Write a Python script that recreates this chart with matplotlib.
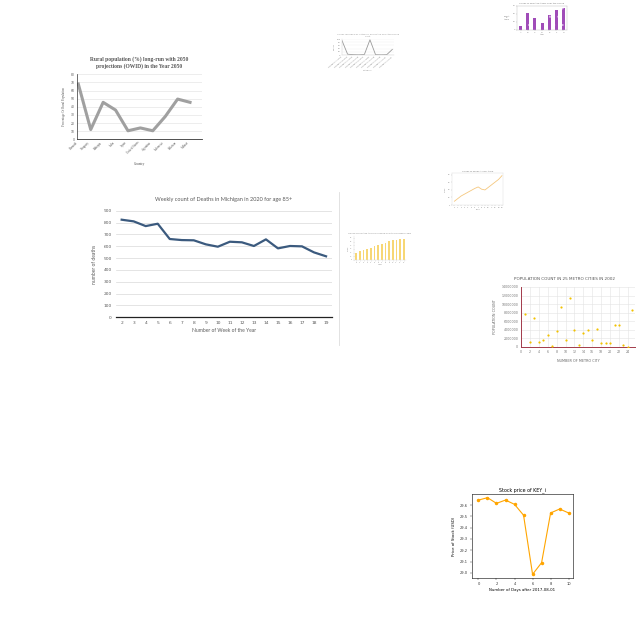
import numpy as np
import matplotlib
matplotlib.use("Agg")
import matplotlib.pyplot as plt

# ---- data ----
rural_countries = ["Burundi", "Uruguay", "Ethiopia", "India", "Japan",
                   "United States", "Argentina", "Indonesia", "Pakistan", "Malawi"]
rural_pct = [68, 12, 45.5, 36, 10.5, 14, 10.5, 28, 49.5, 45.5]

small_cats = ["Category A long", "Category B long", "Category C long", "Category D long",
              "Category E long", "Category F long", "Category G long", "Category H long",
              "Category I long", "Category J long"]
small_vals = [90, 5, 2, 1, 3, 95, 2, 1, 2, 35]

purple_cats = ["A", "B", "C", "D", "E", "F", "G"]
purple_vals = [10, 43, 30, 17, 38, 50, 55]

weeks = list(range(2, 20))
deaths = [824, 810, 770, 790, 661, 652, 650, 616, 596, 638, 633, 602, 658, 582, 602, 599, 548, 515]

yl_x = list(range(15))
yl_vals = [10, 17, 24, 29, 34, 39, 44, 48, 42, 40, 47, 54, 61, 68, 78]

ybar_x = list(range(14))
ybar_vals = [20, 25, 27, 29, 32, 38, 40, 43, 45, 52, 53, 54, 56, 58]

metro_city = list(range(1, 26))
metro_pop = [7.7e6, 1.2e6, 6.8e6, 1.2e6, 1.6e6, 2.9e6, 0.23e6, 3.8e6, 9.25e6, 1.55e6,
             11.4e6, 3.95e6, 0.45e6, 3.25e6, 3.95e6, 1.6e6, 4.2e6, 0.9e6, 0.85e6, 0.9e6,
             5.05e6, 5.2e6, 0.55e6, 0.1e6, 8.7e6]

stock_days = list(range(11))
stock_price = [29.644, 29.665, 29.615, 29.644, 29.606, 29.51, 28.987, 29.09, 29.53, 29.565, 29.53]

W = H = 640
fig = plt.figure(figsize=(6.4, 6.4), dpi=100)


def axes_px(x0, y0, x1, y1):
    return fig.add_axes([x0 / W, 1 - y1 / H, (x1 - x0) / W, (y1 - y0) / H])


# ---- rural population chart ----
ax = axes_px(76.7, 74.3, 201.7, 139.3)
ax.plot(range(len(rural_pct)), rural_pct, color="#a0a0a0", lw=2.2)
ax.set_ylim(0, 80)
ax.set_xlim(-0.13, 9.94)
ax.set_yticks(range(0, 81, 10))
ax.set_xticks(range(len(rural_countries)))
ax.set_xticklabels(rural_countries, rotation=45, ha="right", fontsize=2.2,
                   family="Liberation Serif", color="#555555")
ax.tick_params(axis="y", labelsize=2.2, colors="#555555", length=0, pad=1.5)
ax.tick_params(axis="x", length=0, pad=1)
ax.grid(axis="y", color="#e6e6e6", lw=0.5)
ax.set_axisbelow(True)
for s in ["top", "right"]:
    ax.spines[s].set_visible(False)
ax.spines["left"].set_color("#333333")
ax.spines["bottom"].set_color("#333333")
ax.spines["left"].set_linewidth(0.5)
ax.spines["bottom"].set_linewidth(0.6)
ax.set_title("Rural population (%) long-run with 2050\nprojections (OWID) in the Year 2050",
             fontsize=4, fontweight="bold", family="Liberation Serif", color="#555555",
             pad=5, linespacing=1.1)
ax.set_xlabel("Country", fontsize=2.5, family="Liberation Serif", color="#555555", labelpad=5)
ax.set_ylabel("Percentage Of Rural Population", fontsize=2.2, family="Liberation Serif",
              color="#555555", labelpad=3)

# ---- small gray line chart (top middle) ----
ax = axes_px(342, 39, 394, 55)
ax.plot(range(len(small_vals)), small_vals, color="#9a9a9a", lw=0.6)
ax.set_xlim(0, 9.3)
ax.set_ylim(0, 100)
ax.set_yticks(range(0, 101, 20))
ax.set_xticks(range(len(small_cats)))
ax.set_xticklabels(small_cats, rotation=40, ha="right", fontsize=1.5, color="#888888")
ax.tick_params(labelsize=1.5, colors="#888888", length=0, pad=1)
ax.grid(axis="y", color="#eeeeee", lw=0.3)
for s in ["top", "right"]:
    ax.spines[s].set_visible(False)
ax.spines["left"].set_color("#cccccc")
ax.spines["bottom"].set_color("#cccccc")
ax.spines["left"].set_linewidth(0.3)
ax.spines["bottom"].set_linewidth(0.3)
ax.set_title("Values recorded by category across the selected period\ncount",
             fontsize=1.6, color="#999999", pad=1.5)
ax.set_xlabel("Category", fontsize=1.5, color="#999999", labelpad=1)
ax.set_ylabel("Values", fontsize=1.5, color="#999999", labelpad=1)

# ---- purple bar chart (top right) ----
plt.rcParams["hatch.linewidth"] = 0.3
ax = axes_px(517, 6, 567, 30)
ax.bar(range(len(purple_vals)), purple_vals, width=0.42, color="#a04cb8",
       hatch="..", edgecolor="#dcb8e8", lw=0)
ax.set_xlim(-0.5, 6.5)
ax.set_ylim(0, 60)
ax.set_xticks(range(len(purple_cats)))
ax.set_xticklabels(purple_cats)
ax.tick_params(labelsize=1.5, colors="#888888", length=0.8, width=0.2, pad=0.5)
for s in ax.spines.values():
    s.set_color("#bbbbbb")
    s.set_linewidth(0.3)
ax.set_title("Values of selected items over the period", fontsize=1.6, color="#777777", pad=1.5)
ax.set_xlabel("Item", fontsize=1.5, color="#777777", labelpad=0.8)
ax.set_ylabel("Count\nof\nitems", fontsize=1.5, color="#777777", rotation=0, labelpad=4,
              va="center")

# ---- Michigan weekly deaths ----
ax = axes_px(116, 210.7, 331.7, 317.3)
ax.plot(range(len(deaths)), deaths, color="#3b5a7e", lw=1.6)
ax.set_xlim(-0.47, len(deaths) - 0.53)
ax.set_ylim(0, 900)
ax.set_yticks(range(0, 901, 100))
ax.set_xticks(range(len(weeks)))
ax.set_xticklabels([str(w) for w in weeks])
ax.tick_params(labelsize=3.2, colors="#595959", length=0, pad=3)
ax.grid(axis="y", color="#d9d9d9", lw=0.5)
ax.set_axisbelow(True)
for s in ["top", "right", "left"]:
    ax.spines[s].set_visible(False)
ax.spines["bottom"].set_color("#222222")
ax.spines["bottom"].set_linewidth(0.9)
ax.set_title("Weekly count of Deaths in Michigan in 2020 for age 85+", fontsize=4,
             family="Lato", color="#595959", pad=7)
ax.set_xlabel("Number of Week of the Year", fontsize=3.6, family="Lato", color="#595959",
              labelpad=2)
ax.set_ylabel("number of deaths", fontsize=3.6, family="Lato", color="#595959", labelpad=5)

# separator line next to the Michigan chart
fig.add_artist(plt.Line2D([338.5 / W, 338.5 / W], [1 - 192 / H, 1 - 345 / H],
                          color="#dddddd", lw=0.6))

# ---- small yellow line chart ----
ax = axes_px(452, 173, 503, 205)
ax.plot(yl_x, yl_vals, color="#f5c77e", lw=0.6)
ax.set_xlim(-0.7, 14.3)
ax.set_ylim(0, 85)
ax.set_xticks(yl_x)
ax.set_yticks(range(0, 81, 20))
ax.tick_params(labelsize=1.4, colors="#888888", length=0.8, width=0.2, pad=0.5)
for s in ax.spines.values():
    s.set_color("#dddddd")
    s.set_linewidth(0.3)
ax.set_title("Values of series A over time", fontsize=1.6, color="#777777", pad=1)
ax.set_xlabel("Time", fontsize=1.4, color="#888888", labelpad=0.8)
ax.set_ylabel("Value", fontsize=1.4, color="#888888", labelpad=1)

# ---- small yellow bar chart ----
ax = axes_px(354, 236, 406, 260)
ax.bar(ybar_x, ybar_vals, width=0.45, color="#f7d774", lw=0)
ax.set_xlim(-0.6, 13.6)
ax.set_ylim(0, 65)
ax.set_xticks(ybar_x)
ax.set_yticks(range(0, 61, 10))
ax.tick_params(labelsize=1.3, colors="#888888", length=0.6, width=0.2, pad=0.5)
for s in ["top", "right"]:
    ax.spines[s].set_visible(False)
ax.spines["left"].set_color("#dddddd")
ax.spines["bottom"].set_color("#dddddd")
ax.spines["left"].set_linewidth(0.3)
ax.spines["bottom"].set_linewidth(0.3)
ax.set_title("Values of selected items increasing over the recorded years",
             fontsize=1.5, color="#888888", pad=1.5)
ax.set_xlabel("Year", fontsize=1.4, color="#888888", labelpad=0.8)
ax.set_ylabel("Value", fontsize=1.4, color="#888888", labelpad=1)

# ---- population scatter ----
ax = axes_px(521, 287, 635, 347)
ax.scatter(metro_city, metro_pop, s=2.5, color="#f2c200", lw=0, zorder=3)
ax.set_xlim(0, 25.6)
ax.set_ylim(0, 14000000)
ax.set_xticks(range(0, 25, 2))
ax.set_yticks(range(0, 14000001, 2000000))
ax.set_yticklabels([str(v) for v in range(0, 14000001, 2000000)])
ax.tick_params(labelsize=2.3, colors="#777777", length=0, pad=2)
ax.grid(color="#e3e3e3", lw=0.4)
ax.set_axisbelow(True)
for s in ["top", "right"]:
    ax.spines[s].set_visible(False)
ax.spines["left"].set_color("#a23a4a")
ax.spines["bottom"].set_color("#a23a4a")
ax.spines["left"].set_linewidth(0.7)
ax.spines["bottom"].set_linewidth(0.7)
fig.text(565 / W, 1 - 279 / H, "POPULATION COUNT IN 25 METRO CITIES IN 2002",
         fontsize=3.0, color="#555555", ha="center", va="center")
ax.set_xlabel("NUMBER OF METRO CITY", fontsize=2.4, color="#666666", labelpad=4)
ax.set_ylabel("POPULATION COUNT", fontsize=2.4, color="#666666", labelpad=3)

# ---- stock price ----
ax = axes_px(471.7, 494.3, 572.7, 578.3)
ax.plot(stock_days, stock_price, color="orange", lw=0.8, marker="o", ms=1.5)
ax.set_xlim(-0.75, 10.45)
ax.set_ylim(28.952, 29.695)
ax.set_xticks(range(0, 11, 2))
ax.set_yticks([29.0, 29.1, 29.2, 29.3, 29.4, 29.5, 29.6])
ax.tick_params(labelsize=2.6, colors="#333333", length=1.2, width=0.3, pad=1.5)
for s in ax.spines.values():
    s.set_linewidth(0.4)
ax.set_title("Stock price of KEY_i", fontsize=3.4, pad=2.5)
ax.set_xlabel("Number of Days after 2017-08-01", fontsize=2.8, labelpad=1.5)
ax.set_ylabel("Price of Stock (USD)", fontsize=2.8, labelpad=3)

fig.savefig("out.png", dpi=100)
